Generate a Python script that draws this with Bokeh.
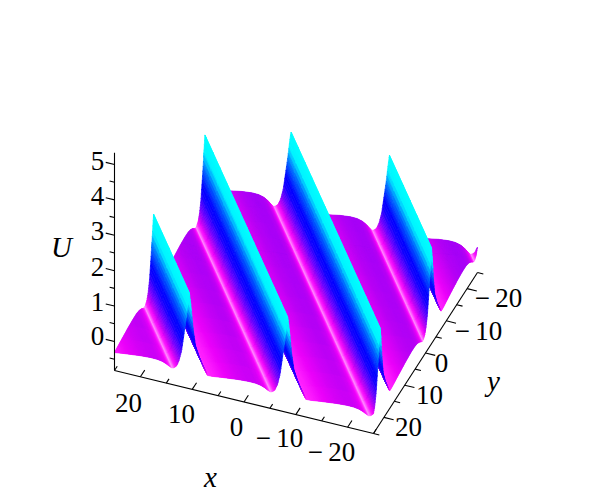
import numpy as np
from bokeh.plotting import figure
from bokeh.models import Range1d, ColumnDataSource
from bokeh.core.properties import value
from bokeh.embed import file_html
from bokeh.resources import INLINE

# ---- values ----
x_ticks = [20, 10, 0, -10, -20]
x_minor = [25, 15, 5, -5, -15, -25]
y_ticks = [-20, -10, 0, 10, 20]
y_minor = [-25, -15, -5, 5, 15, 25]
z_ticks = [0, 1, 2, 3, 4, 5]
z_minor = [-0.5, 0.5, 1.5, 2.5, 3.5, 4.5]
x_labels = ["20", "10", "0", "\u2212\u200910", "\u2212\u200920"]
y_labels = ["\u2212\u200920", "\u2212\u200910", "0", "10", "20"]
z_labels = ["0", "1", "2", "3", "4", "5"]
x_range3 = [-25, 25]
y_range3 = [-25, 25]
z_range3 = [-0.82, 5.33]

# ridge crests: phase along the x axis at the y=-25 edge, fraction of the x span
ridge_phase = [-0.48, -0.108, 0.278, 0.66, 1.04]
ridge_slant = 0.769   # crest drift in x-fraction per y-fraction
# one wave cross-section: offset from the crest and U there
wave_offset = [-0.19, -0.15, -0.125, -0.105, -0.09, -0.078, -0.068, -0.06, -0.05, -0.04, -0.03, -0.02, -0.012, -0.006,
               0.0, 0.006, 0.015, 0.024, 0.043, 0.07, 0.09, 0.13, 0.19]
wave_U = [-0.33, -0.33, -0.33, -0.33, -0.335, -0.345, -0.354, -0.335, -0.27, -0.10, 0.20, 0.72, 1.15, 1.55,
          1.89, 1.55, 0.875, 0.423, 0.056, -0.32, -0.33, -0.33, -0.33]
# the small swell on the low ground between two crests
swell = [0.75, 0.88, 0.86, 0.7, 0.45, 0.18, 0, 0, 0, 0, 0, 0, 0, 0, 0, 0, 0, 0, 0, 0.0, 0.12, 0.4, 0.75]
swell_y_frac = [0.0, 0.5, 1.0]
swell_U = [0.24, 0.21, 0.14]
# colour ramp of the surface against U
ramp_U = [-0.40, -0.354, -0.34, -0.315, -0.26, -0.17, -0.08, 0.02, 0.35, 0.60, 1.05, 1.44, 1.89]
ramp_R = [255, 255, 255, 255, 235, 185, 150, 110, 20, 0, 0, 0, 0]
ramp_G = [150, 150, 90, 30, 0, 0, 0, 0, 0, 0, 110, 245, 255]
ramp_B = [255, 255, 255, 255, 250, 245, 250, 255, 255, 255, 255, 255, 255]

# ---- projection of the box on the page ----
Ax, Ay = 114.0, 370.0      # x=25,  y=25, floor
Bx, By = 373.0, 433.0      # x=-25, y=25, floor
Cx, Cy = 477.0, 272.0      # x=-25, y=-25, floor
zpx = 35.4
zmin = z_range3[0]

def project(x, y, z):
    u = (x_range3[1] - np.asarray(x, float)) / (x_range3[1] - x_range3[0])
    v = (np.asarray(y, float) - y_range3[0]) / (y_range3[1] - y_range3[0])
    sx = Cx + (Bx - Ax) * (u - 1) + (Bx - Cx) * v
    sy = Cy + (By - Ay) * (u - 1) + (By - Cy) * v - (np.asarray(z, float) - zmin) * zpx
    return sx, sy

period = np.mean(np.diff(ridge_phase))

def surf(u, v):
    s = np.asarray(u) - ridge_slant * np.asarray(v)
    d = (s - ridge_phase[0] + period / 2) % period - period / 2
    base = np.interp(d, wave_offset, wave_U)
    w = np.interp(d, wave_offset, swell)
    return base + w * np.interp(v, swell_y_frac, swell_U)

def clip(poly):
    def one(p, keep, cross):
        out = []
        for i in range(len(p)):
            a, b = p[i], p[(i + 1) % len(p)]
            ka, kb = keep(a), keep(b)
            if ka:
                out.append(a)
            if ka != kb:
                t = (cross - a[0]) / (b[0] - a[0])
                out.append((cross, a[1] + t * (b[1] - a[1])))
        return out
    p = one(poly, lambda q: q[0] >= 0, 0.0)
    if p:
        p = one(p, lambda q: q[0] <= 1, 1.0)
    return p

# phases of the strips: dense, and landing exactly on each crest
s_all = np.arange(-0.769, 1.0, 0.0022)
s_all = np.unique(np.concatenate([s_all, [r for r in ridge_phase if r < 1.0 and r > -0.769]]))
v_all = np.linspace(0, 1, 15)

xs, ys, cols = [], [], []
# far rows first; inside a row, the larger phases first (they lie behind along the sight line)
for j in range(len(v_all) - 1):
    v0, v1 = v_all[j], v_all[j + 1]
    for i in range(len(s_all) - 2, -1, -1):
        s0, s1 = s_all[i], s_all[i + 1]
        poly = [(s0 + ridge_slant * v0, v0), (s1 + ridge_slant * v0, v0),
                (s1 + ridge_slant * v1, v1), (s0 + ridge_slant * v1, v1)]
        poly = clip(poly)
        if len(poly) < 3:
            continue
        pu = np.array([q[0] for q in poly])
        pv = np.array([q[1] for q in poly])
        U = surf(pu, pv)
        sx, sy = project(x_range3[1] - pu * 50, y_range3[0] + pv * 50, U)
        Um = float(surf(pu.mean(), pv.mean()))
        r = int(np.interp(Um, ramp_U, ramp_R))
        g = int(np.interp(Um, ramp_U, ramp_G))
        b = int(np.interp(Um, ramp_U, ramp_B))
        xs.append(sx.tolist())
        ys.append(sy.tolist())
        cols.append("#%02x%02x%02x" % (r, g, b))

src = ColumnDataSource(dict(xs=xs, ys=ys, c=cols))

p = figure(width=596, height=492, output_backend="svg", toolbar_location=None,
           x_range=Range1d(0, 596), y_range=Range1d(492, 0), min_border=0)
p.axis.visible = False
p.grid.visible = False
p.outline_line_color = None
p.patches("xs", "ys", source=src, fill_color="c", line_color="c", line_width=0.7)

# ---- axes ----
ink = "#000000"
def seg(x0, y0, x1, y1, w=1.1):
    p.segment(x0, y0, x1, y1, line_color=ink, line_width=w)

ex = np.array([(Bx - Ax), (By - Ay)]) / np.hypot(Bx - Ax, By - Ay)
ey = np.array([(Cx - Bx), (Cy - By)]) / np.hypot(Cx - Bx, Cy - By)

# x axis along y=25
x0, y0 = project(x_range3[1], y_range3[1], zmin)
x1, y1 = project(x_range3[0], y_range3[1], zmin)
seg(float(x0), float(y0), float(x1), float(y1))
for t, ln in [(x_ticks, 8.0), (x_minor, 5.0)]:
    for q in t:
        a, b = project(q, y_range3[1], zmin)
        seg(float(a), float(b), float(a + ey[0] * ln), float(b + ey[1] * ln))

# y axis along x=-25
x0, y0 = project(x_range3[0], y_range3[1], zmin)
x1, y1 = project(x_range3[0], y_range3[0], zmin)
seg(float(x0), float(y0), float(x1), float(y1))
for t, ln in [(y_ticks, 10.0), (y_minor, 6.0)]:
    for q in t:
        a, b = project(x_range3[0], q, zmin)
        seg(float(a), float(b), float(a + ex[0] * ln), float(b + ex[1] * ln))

# z axis at the x=25, y=25 corner
x0, y0 = project(x_range3[1], y_range3[1], z_range3[0])
x1, y1 = project(x_range3[1], y_range3[1], z_range3[1])
seg(float(x0), float(y0), float(x1), float(y1))
for t, ln in [(z_ticks, 9.0), (z_minor, 5.0)]:
    for q in t:
        a, b = project(x_range3[1], y_range3[1], q)
        seg(float(a), float(b), float(a - ex[0] * ln), float(b - ex[1] * ln))

serif = value("Liberation Serif")
def lab(x, y, txt, size="27px", style="normal"):
    p.text([x], [y], text=[txt], text_font=serif, text_font_size=size, text_font_style=style,
           text_align="center", text_baseline="middle", text_color=ink)

for t, px, py in zip(z_labels, [97] * 6, [335, 301, 266, 230, 195, 160]):
    lab(px, py, t)
for t, px, py in zip(x_labels, [128, 181, 236, 279, 331], [402, 413, 426, 437, 451]):
    lab(px, py, t)
for t, px, py in zip(y_labels, [498, 478, 441, 429, 408], [297, 330, 362, 394, 426]):
    lab(px, py, t)
lab(61, 246, "U", "29px", "italic")
lab(210, 476, "x", "29px", "italic")
lab(493, 380, "y", "29px", "italic")

open("out.html", "w").write(file_html(p, INLINE))
